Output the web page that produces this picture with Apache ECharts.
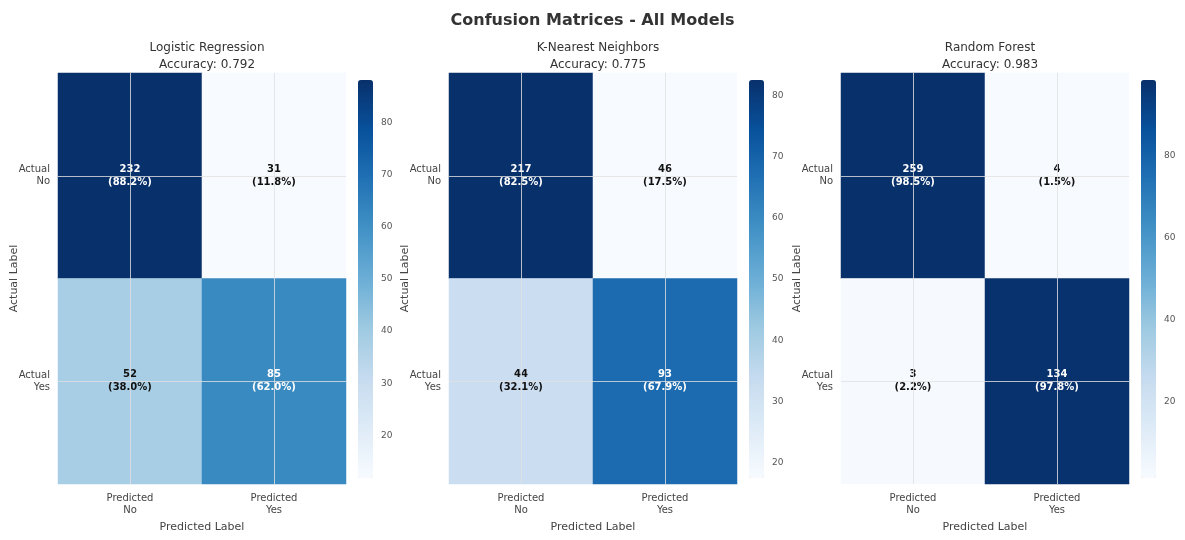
<!DOCTYPE html>
<html>
<head>
<meta charset="utf-8">
<script src="https://cdn.jsdelivr.net/npm/echarts@6/dist/echarts.min.js"></script>
<style>
  html, body { margin: 0; padding: 0; background: #fff; }
  #chart { width: 1185px; height: 540px; }
</style>
</head>
<body>
<div id="chart"></div>
<script>
// Confusion matrix data for the three classifiers
const predictedLabels = ['Predicted\nNo', 'Predicted\nYes'];
const actualLabels = ['Actual\nNo', 'Actual\nYes'];
const modelNames = ['Logistic Regression', 'K-Nearest Neighbors', 'Random Forest'];
const accuracies = ['0.792', '0.775', '0.983'];
const logisticCounts = [[232, 31], [52, 85]];
const knnCounts = [[217, 46], [44, 93]];
const forestCounts = [[259, 4], [3, 134]];
const colorbarSteps = [10, 10, 20];

const matrices = [logisticCounts, knnCounts, forestCounts];

const FONT = '"DejaVu Sans", sans-serif';
const BLUES = ['#f7fbff', '#deebf7', '#c6dbef', '#9ecae1', '#6baed6', '#4292c6', '#2171b5', '#08519c', '#08306b'];

// panel geometry
const panelLeft = [58, 449, 841];
const cellTop = 73, cellW = 288, cellH = 411;
const barOffset = 300, barTop = 80, barH = 398, barW = 15;

const grids = [], xAxes = [], yAxes = [], series = [], visualMaps = [], titles = [];

titles.push({
  text: 'Confusion Matrices - All Models',
  left: 'center', top: 8,
  textStyle: { fontFamily: FONT, fontSize: 16, fontWeight: 'bold', color: '#333' }
});

matrices.forEach((counts, m) => {
  // row-normalised percentages
  const rows = counts.map(r => r.reduce((a, b) => a + b, 0));
  const pct = counts.map((r, i) => r.map(v => +(100 * v / rows[i]).toFixed(1)));
  const flat = pct.flat();
  const vmin = Math.min(...flat), vmax = Math.max(...flat);

  const left = panelLeft[m];
  titles.push({
    text: modelNames[m] + '\nAccuracy: ' + accuracies[m],
    left: left + cellW / 2, top: 34, textAlign: 'center',
    textStyle: { fontFamily: FONT, fontSize: 12, fontWeight: 'normal', color: '#333', lineHeight: 17 }
  });

  // heatmap grid
  const gi = grids.length;
  grids.push({ left: left, top: cellTop, width: cellW, height: cellH });
  xAxes.push({
    type: 'category', gridIndex: gi, data: predictedLabels, position: 'bottom',
    axisLine: { show: false }, axisTick: { show: false }, splitLine: { show: false },
    axisLabel: { fontFamily: FONT, fontSize: 10, color: '#444', lineHeight: 12, margin: 8 },
    name: 'Predicted Label', nameLocation: 'middle', nameGap: 38, nameMoveOverlap: false,
    nameTextStyle: { fontFamily: FONT, fontSize: 11, color: '#444' }
  });
  yAxes.push({
    type: 'category', gridIndex: gi, data: actualLabels, inverse: true,
    axisLine: { show: false }, axisTick: { show: false }, splitLine: { show: false },
    axisLabel: { fontFamily: FONT, fontSize: 10, color: '#444', lineHeight: 12, margin: 8, align: 'right' },
    name: 'Actual Label', nameLocation: 'middle', nameGap: 38, nameRotate: 90, nameMoveOverlap: false,
    nameTextStyle: { fontFamily: FONT, fontSize: 11, color: '#444' }
  });

  const data = [];
  counts.forEach((r, i) => r.forEach((v, j) => {
    const frac = (pct[i][j] - vmin) / (vmax - vmin);
    data.push({
      value: [j, i, pct[i][j], v],
      label: { color: frac > 0.5 ? '#ffffff' : '#111111' }
    });
  }));

  const si = series.length;
  series.push({
    type: 'heatmap', xAxisIndex: gi, yAxisIndex: gi, data: data,
    label: {
      show: true, fontFamily: FONT, fontSize: 10, fontWeight: 'bold', lineHeight: 13,
      formatter: p => p.value[3] + '\n(' + p.value[2].toFixed(1) + '%)'
    },
    emphasis: { disabled: true },
    markLine: {
      silent: true, symbol: ['none', 'none'], animation: false,
      label: { show: false },
      lineStyle: { color: 'rgba(225,225,225,0.8)', type: 'solid', width: 1 },
      data: [
        { xAxis: predictedLabels[0] }, { xAxis: predictedLabels[1] },
        { yAxis: actualLabels[0] }, { yAxis: actualLabels[1] }
      ]
    }
  });

  // colour bar
  visualMaps.push({
    type: 'continuous', seriesIndex: si, dimension: 2, min: vmin, max: vmax,
    calculable: false, orient: 'vertical', left: left + barOffset, top: barTop,
    itemWidth: barW, itemHeight: barH, padding: 0, text: null, showLabel: false,
    hoverLink: false, inRange: { color: BLUES }
  });

  // colour bar tick axis: spans whole multiples of the step, aligned to the bar
  const step = colorbarSteps[m];
  const amin = Math.floor(vmin / step) * step, amax = Math.ceil(vmax / step) * step;
  const pxPerUnit = barH / (vmax - vmin);
  const ci = grids.length;
  grids.push({
    left: left + barOffset, width: barW,
    top: barTop - (amax - vmax) * pxPerUnit,
    height: (amax - amin) * pxPerUnit
  });
  xAxes.push({ type: 'value', gridIndex: ci, show: false, min: 0, max: 1 });
  yAxes.push({
    type: 'value', gridIndex: ci, position: 'right', min: amin, max: amax, interval: step,
    axisLine: { show: false }, axisTick: { show: false }, splitLine: { show: false },
    axisLabel: {
      fontFamily: FONT, fontSize: 9, color: '#555', margin: 8,
      formatter: v => (v < vmin || v > vmax) ? '' : String(v)
    }
  });
});

const chart = echarts.init(document.getElementById('chart'), null, { renderer: 'canvas' });
chart.setOption({
  animation: false,
  backgroundColor: '#ffffff',
  title: titles,
  grid: grids,
  xAxis: xAxes,
  yAxis: yAxes,
  visualMap: visualMaps,
  series: series
});
</script>
</body>
</html>
